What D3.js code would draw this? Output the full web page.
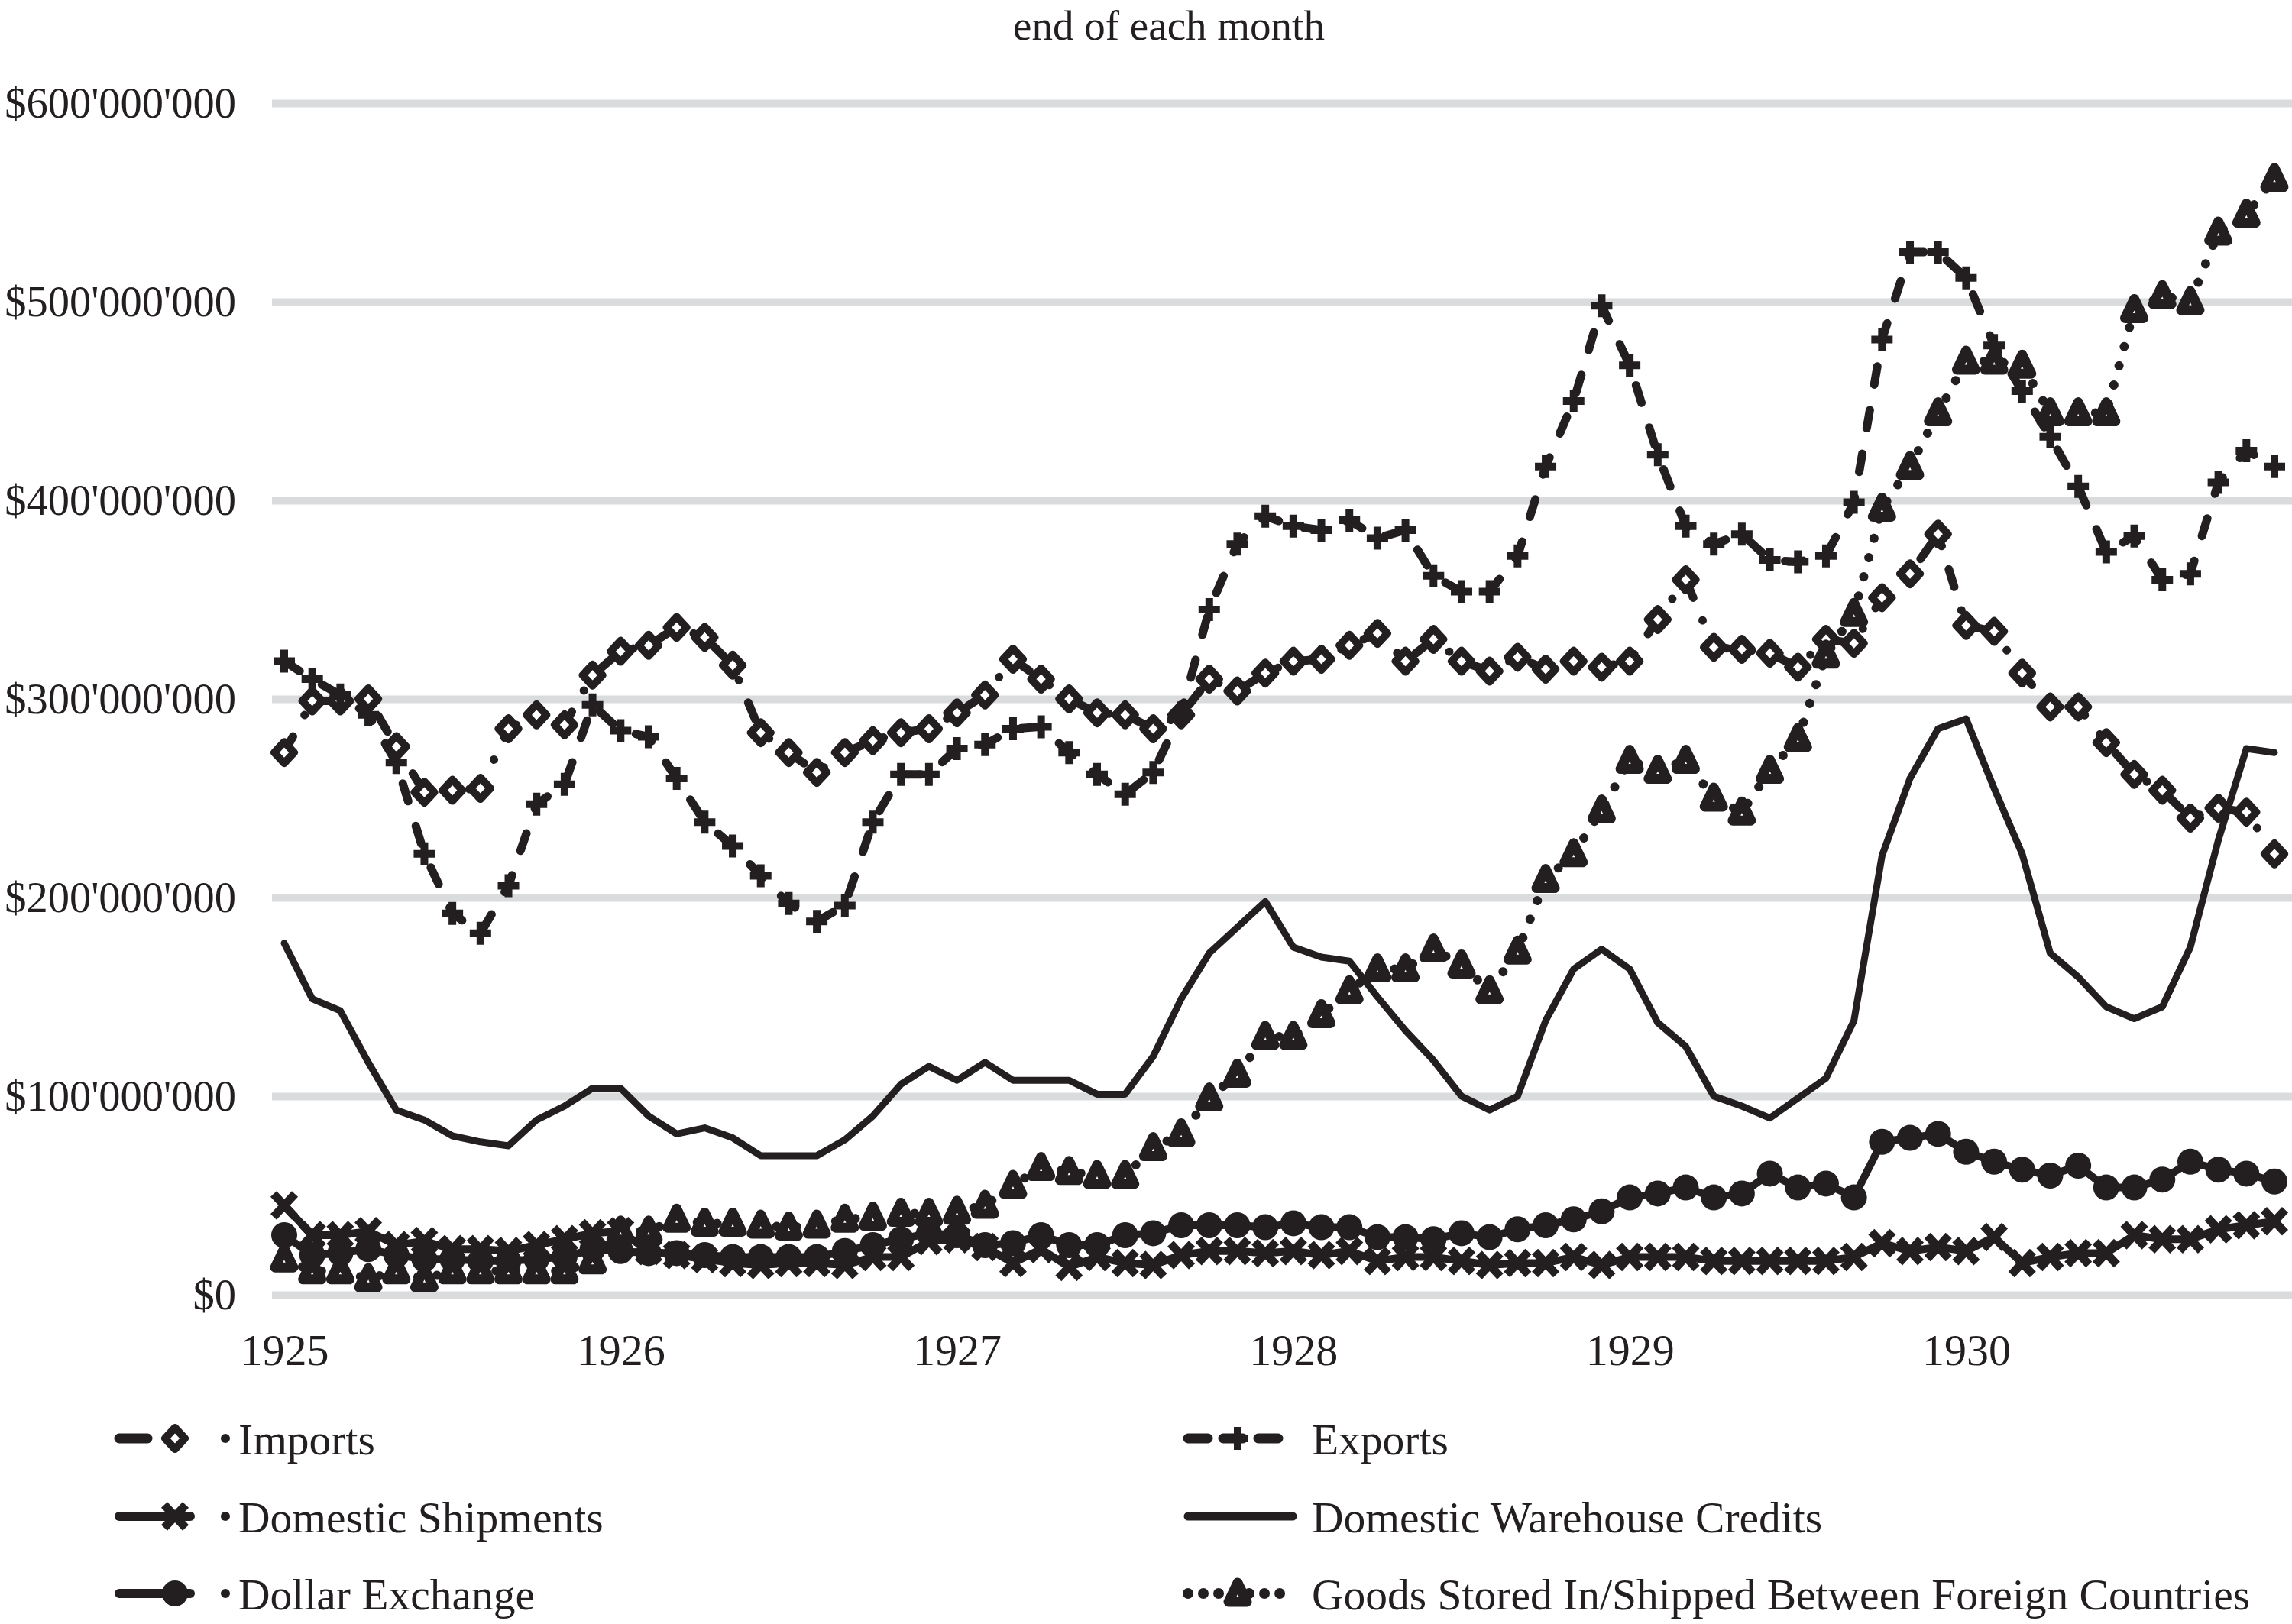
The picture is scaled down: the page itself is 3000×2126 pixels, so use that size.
<!DOCTYPE html>
<html><head><meta charset="utf-8">
<script src="https://cdn.jsdelivr.net/npm/d3@7"></script>
<style>
body{margin:0;background:#fff}
svg{display:block}
text{font-family:"Liberation Serif","Times New Roman",serif;fill:#231f20}
</style>
</head><body>
<svg id="chart" width="3000" height="2126"></svg>
<script>
// ---------- DATA (values in millions of dollars, end of each month) ----------
const categories = [
"1925-01","1925-02","1925-03","1925-04","1925-05","1925-06","1925-07","1925-08","1925-09","1925-10","1925-11","1925-12",
"1926-01","1926-02","1926-03","1926-04","1926-05","1926-06","1926-07","1926-08","1926-09","1926-10","1926-11","1926-12",
"1927-01","1927-02","1927-03","1927-04","1927-05","1927-06","1927-07","1927-08","1927-09","1927-10","1927-11","1927-12",
"1928-01","1928-02","1928-03","1928-04","1928-05","1928-06","1928-07","1928-08","1928-09","1928-10","1928-11","1928-12",
"1929-01","1929-02","1929-03","1929-04","1929-05","1929-06","1929-07","1929-08","1929-09","1929-10","1929-11","1929-12",
"1930-01","1930-02","1930-03","1930-04","1930-05","1930-06","1930-07","1930-08","1930-09","1930-10","1930-11","1930-12"];
const yearLabels = ["1925","1926","1927","1928","1929","1930"];
const yTicks = [0,100,200,300,400,500,600];

const imports = [273,299,299,300,276,253,254,255,285,292,287,312,
  324,327,336,331,317,283,273,263,273,279,283,285,
  293,302,320,310,300,293,292,285,292,310,304,313,
  319,320,327,333,319,330,319,314,321,315,319,316,
  319,340,360,326,325,323,316,330,328,351,363,383,
  337,334,313,296,296,278,262,254,240,245,243,222];
const exportsV = [319,310,302,292,268,222,192,182,206,247,257,297,
  284,281,260,238,226,211,197,188,196,238,262,262,
  275,277,285,286,273,262,252,263,293,345,378,392,
  387,385,390,381,385,362,354,354,372,417,450,498,
  468,423,387,378,383,370,369,372,399,481,525,525,
  512,478,455,432,407,374,382,360,363,409,425,417];
const domesticShipments = [45,30,30,32,25,27,23,23,22,25,28,31,
  32,22,20,18,16,15,16,16,15,19,19,27,
  28,24,16,23,14,19,16,15,20,22,22,21,
  22,20,22,17,19,19,17,15,16,16,19,15,
  19,19,19,17,17,17,17,17,19,26,22,24,
  22,29,16,19,21,21,30,28,28,33,35,37];
const warehouseCredits = [177,149,143,117,93,88,80,77,75,88,95,104,
  104,90,81,84,79,70,70,70,78,90,106,115,
  108,117,108,108,108,101,101,120,149,172,185,198,
  175,170,168,150,133,118,100,93,100,138,164,174,
  164,137,125,100,95,89,99,109,138,221,260,285,
  290,255,222,172,160,145,139,145,175,229,275,273];
const dollarExchange = [30,20,21,23,20,18,18,17,17,18,19,23,
  22,21,21,20,19,19,19,19,22,25,28,31,
  30,25,26,30,25,25,30,31,35,35,35,34,
  36,34,34,29,29,28,31,29,33,35,38,42,
  49,51,54,49,51,61,54,56,49,77,79,81,
  72,67,63,60,65,54,54,58,67,63,61,57];
const goodsForeign = [18,12,12,8,12,8,12,12,12,12,12,17,
  32,32,38,36,36,35,34,35,38,39,41,41,
  42,45,55,64,62,60,60,74,81,99,111,130,
  130,141,153,164,164,174,166,153,173,209,222,244,
  269,264,269,250,243,264,280,322,343,396,417,444,
  470,470,468,444,444,444,496,503,500,535,544,562];

const seriesNames = ["Imports","Exports","Domestic Shipments","Domestic Warehouse Credits","Dollar Exchange","Goods Stored In/Shipped Between Foreign Countries"];

// ---------- STYLE ----------
const ink = "#231f20";
const styles = {
  "Imports": {values: imports, width: 11, dash: "24 32 0.01 32", marker: "diamond"},
  "Exports": {values: exportsV, width: 11, dash: "24 34", marker: "plus"},
  "Domestic Shipments": {values: domesticShipments, width: 10, dash: null, marker: "cross"},
  "Domestic Warehouse Credits": {values: warehouseCredits, width: 9, dash: null, marker: null},
  "Dollar Exchange": {values: dollarExchange, width: 10, dash: null, marker: "circle"},
  "Goods Stored In/Shipped Between Foreign Countries": {values: goodsForeign, width: 12, dash: "0.01 26", marker: "triangle"}
};

const svg = d3.select("#chart");
const x = d3.scalePoint().domain(categories).range([372, 2977]);
const y = d3.scaleLinear().domain([0, 600]).range([1695, 135]);
const fontStack = "'Liberation Serif','Times New Roman',serif";

// gridlines
svg.append("g").attr("transform","translate(356,0)")
  .call(d3.axisLeft(y).tickValues(yTicks).tickSize(-(3000-356)).tickFormat(""))
  .call(g => g.select(".domain").remove())
  .call(g => g.selectAll("line").attr("stroke","#dadbdd").attr("stroke-width",10));

// y labels
const fmt = v => "$" + d3.format(",")(v*1e6).replace(/,/g,"'");
svg.append("g").attr("transform","translate(309,0)")
  .call(d3.axisLeft(y).tickValues(yTicks).tickSize(0).tickPadding(0).tickFormat(fmt))
  .call(g => g.select(".domain").remove())
  .call(g => g.selectAll("text").attr("font-size",56.5).attr("fill",ink).attr("font-family",fontStack));

// x labels
const janCats = categories.filter(c => c.endsWith("-01"));
svg.append("g").attr("transform","translate(0,1746)")
  .call(d3.axisBottom(x).tickValues(janCats).tickSize(0).tickPadding(0)
     .tickFormat(c => yearLabels[janCats.indexOf(c)]))
  .call(g => g.select(".domain").remove())
  .call(g => g.selectAll("text").attr("font-size",58).attr("fill",ink).attr("font-family",fontStack));

// title
svg.append("text").attr("x",1530).attr("y",52).attr("text-anchor","middle")
  .attr("font-size",55).text("end of each month");

// markers
function drawMarker(g, type, cx, cy) {
  if (type === "diamond") {
    g.append("path").attr("d",`M${cx},${cy-14}L${cx+13},${cy}L${cx},${cy+14}L${cx-13},${cy}Z`)
      .attr("fill","#fff").attr("stroke",ink).attr("stroke-width",10).attr("stroke-linejoin","round");
  } else if (type === "plus") {
    g.append("path").attr("d",`M${cx-14},${cy}H${cx+14}M${cx},${cy-15}V${cy+15}`)
      .attr("stroke",ink).attr("stroke-width",10).attr("fill","none");
  } else if (type === "cross") {
    g.append("path").attr("d",`M${cx-14},${cy-15}L${cx+14},${cy+15}M${cx+14},${cy-15}L${cx-14},${cy+15}`)
      .attr("stroke",ink).attr("stroke-width",11).attr("fill","none");
  } else if (type === "circle") {
    g.append("circle").attr("cx",cx).attr("cy",cy).attr("r",17).attr("fill",ink);
  } else if (type === "triangle") {
    g.append("path").attr("d",`M${cx},${cy-14}L${cx+12},${cy+11}L${cx-12},${cy+11}Z`)
      .attr("fill","#fff").attr("stroke",ink).attr("stroke-width",13).attr("stroke-linejoin","round");
  }
}

const line = d3.line().x((d,i) => x(categories[i])).y(d => y(d));
seriesNames.forEach(name => {
  const s = styles[name];
  const g = svg.append("g");
  const p = g.append("path").attr("d", line(s.values)).attr("fill","none")
    .attr("stroke",ink).attr("stroke-width",s.width)
    .attr("stroke-linecap","round").attr("stroke-linejoin","round");
  if (s.dash) p.attr("stroke-dasharray", s.dash);
  if (s.marker) s.values.forEach((v,i) => drawMarker(g, s.marker, x(categories[i]), y(v)));
});

// legend
const legendRows = [1883, 1985, 2086];
const legendCols = [{x0:150, x1:249, mx:229, dot:295, tx:312}, {x0:1549, x1:1692, mx:1620, dot:null, tx:1717}];
const legendOrder = [["Imports",0,0],["Exports",1,0],["Domestic Shipments",0,1],["Domestic Warehouse Credits",1,1],["Dollar Exchange",0,2],["Goods Stored In/Shipped Between Foreign Countries",1,2]];
legendOrder.forEach(([name,c,r]) => {
  const s = styles[name], col = legendCols[c], ly = legendRows[r];
  const g = svg.append("g");
  let x1 = col.x1;
  if (name === "Imports") x1 = 193;
  const p = g.append("line").attr("x1",col.x0+6).attr("x2",x1).attr("y1",ly).attr("y2",ly)
    .attr("stroke",ink).attr("stroke-width",s.width+2).attr("stroke-linecap","round");
  if (s.dash && name !== "Imports") p.attr("stroke-dasharray", name==="Exports" ? "26 20" : "0.01 20");
  if (s.marker) drawMarker(g, s.marker, col.mx, ly);
  if (col.dot) g.append("circle").attr("cx",col.dot).attr("cy",ly).attr("r",6).attr("fill",ink);
  g.append("text").attr("x",col.tx).attr("y",ly+21).attr("font-size",57.5).text(name);
});
</script>
</body></html>
